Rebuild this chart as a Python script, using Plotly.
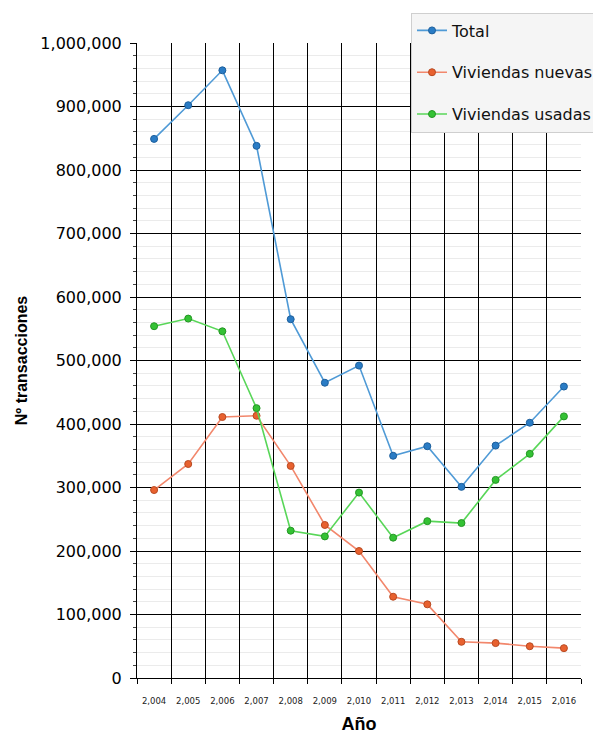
import plotly.graph_objects as go

years = [2004, 2005, 2006, 2007, 2008, 2009, 2010, 2011, 2012, 2013, 2014, 2015, 2016]
year_labels = [f"{y:,}" for y in years]

total = [849000, 902000, 957000, 838000, 565000, 465000, 492000, 350000, 365000, 301000, 366000, 402000, 459000]
nuevas = [296000, 337000, 411000, 413000, 334000, 241000, 200000, 128000, 116000, 57000, 55000, 50000, 47000]
usadas = [554000, 566000, 546000, 425000, 232000, 223000, 292000, 221000, 247000, 244000, 312000, 353000, 412000]

series_names = ["Total", "Viviendas nuevas", "Viviendas usadas"]
line_colors = ["#4f9ad6", "#f2876c", "#58d658"]
marker_colors = ["#2a7cc5", "#e8612f", "#34c234"]
outline_colors = ["#1d5f9c", "#b84a22", "#249624"]

fig = go.Figure()
for name, vals, lc, mc, oc in zip(series_names, [total, nuevas, usadas], line_colors, marker_colors, outline_colors):
    fig.add_trace(go.Scatter(
        x=year_labels, y=vals, name=name, mode="lines+markers",
        legendgroup=name,
        line=dict(color=lc, width=1.6),
        marker=dict(size=7, color=mc, line=dict(color=oc, width=1)),
    ))

fig.update_layout(
    width=593, height=734,
    margin=dict(l=137, r=12, t=43, b=56, autoexpand=False),
    paper_bgcolor="white", plot_bgcolor="white",
    font=dict(family="DejaVu Sans", color="black"),
    showlegend=True,
    legend=dict(
        x=(411 - 137) / 444, xanchor="left",
        y=1.048, yanchor="top",
        bgcolor="#f5f5f5", bordercolor="#cfcfcf", borderwidth=1,
        font=dict(family="DejaVu Sans", size=16, color="#111111"),
        tracegroupgap=18, traceorder="grouped",
    ),
    xaxis=dict(
        type="category", tickson="boundaries", automargin=False,
        range=[-0.5, len(years) - 0.5],
        showgrid=True, gridcolor="black", gridwidth=1,
        showline=True, linecolor="black", linewidth=1,
        ticks="outside", ticklen=5, tickcolor="black",
        tickangle=0,
        tickfont=dict(size=8.5, family="DejaVu Sans", color="#222222"),
        ticklabelstandoff=15,
        title=dict(text="<b>Año</b>", font=dict(family="Liberation Sans", size=18, color="black"), standoff=18),
        zeroline=False,
    ),
    yaxis=dict(
        range=[0, 1000000], dtick=100000, tickformat=",", automargin=False,
        showgrid=True, gridcolor="black", gridwidth=1,
        showline=True, linecolor="black", linewidth=1,
        ticks="outside", ticklen=6, tickcolor="black",
        tickfont=dict(size=16, family="DejaVu Sans", color="black"),
        ticklabelstandoff=5,
        minor=dict(dtick=20000, showgrid=True, gridcolor="#ebebeb", ticks="outside", ticklen=3, tickcolor="#444444"),
        title=dict(text="<b>Nº transacciones</b>", font=dict(family="Liberation Sans", size=16, color="black"), standoff=8),
        zeroline=False,
    ),
)

fig.write_html("out.html", config={"displayModeBar": False},
               post_script="document.body.style.margin='0px';")
